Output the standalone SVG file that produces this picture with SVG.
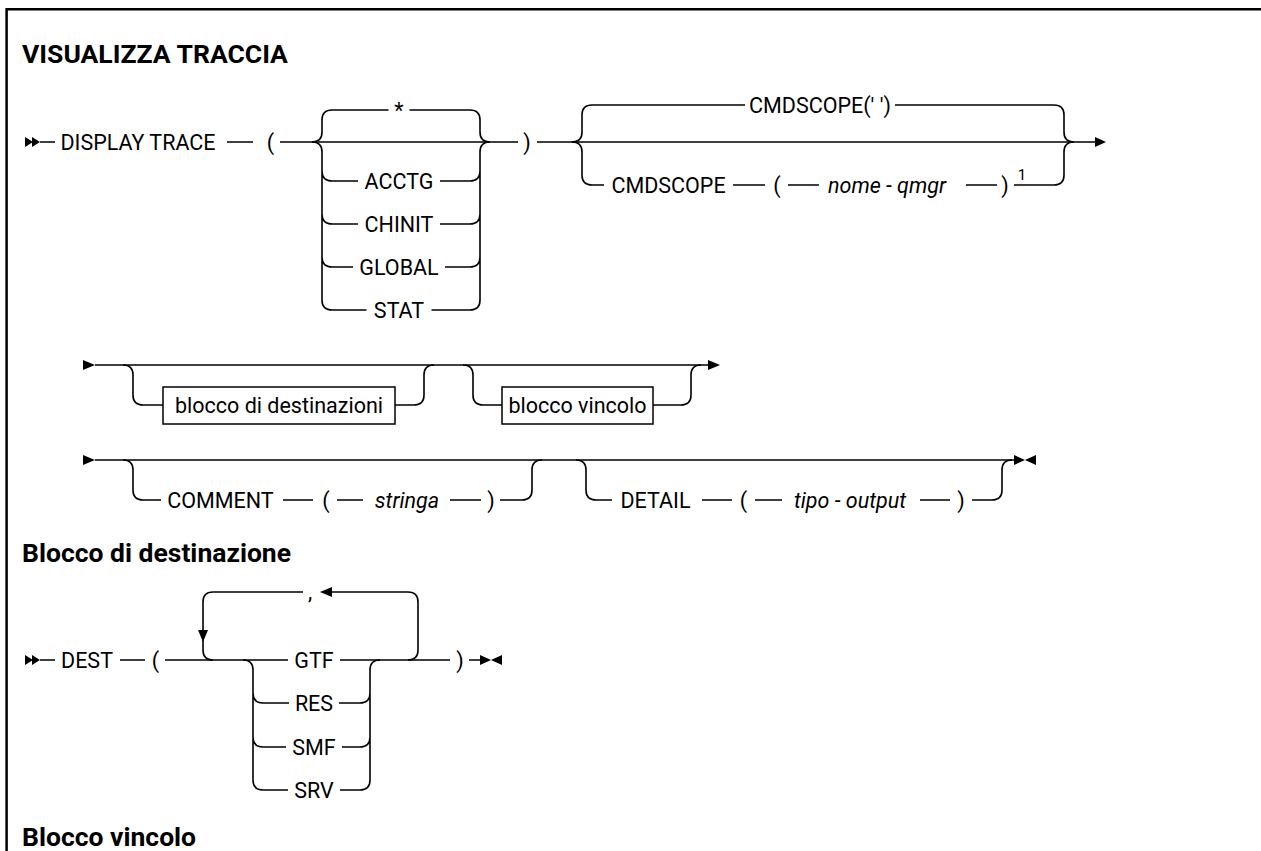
<svg xmlns="http://www.w3.org/2000/svg" width="1261" height="851" viewBox="0 0 1261 851">
<style>
.t{font-family:Roboto,"Liberation Sans",sans-serif;font-size:21.5px;fill:#000;text-anchor:middle}
.i{font-style:italic}
.h{font-family:Roboto,"Liberation Sans",sans-serif;font-size:26.5px;font-weight:bold;fill:#000}
.sup{font-family:Roboto,"Liberation Sans",sans-serif;font-size:15px;fill:#000;text-anchor:middle}
.ln{fill:none;stroke:#000;stroke-width:1.6}
.bx{fill:#fff;stroke:#000;stroke-width:1.5}
.ar{fill:#000}
.frame{fill:none;stroke:#000;stroke-width:2.5}
</style>
<rect width="1261" height="851" fill="#fff"/>
<path class="frame" d="M6.6,851 V9.2 H1261"/>

<g id="headings">
<text class="h" x="22" y="63">VISUALIZZA TRACCIA</text>
<text class="h" x="22" y="562">Blocco di destinazione</text>
<text class="h" x="22" y="846">Blocco vincolo</text>
</g>

<g id="connectors">
<!-- row 1 -->
<polygon class="ar" points="25,137 33,142 25,147"/>
<polygon class="ar" points="32,137 40,142 32,147"/>
<path class="ln" d="M40,142 H55 M227,142 H253 M280,142 H518 M537,142 H1095"/>
<polygon class="ar" points="1095,137 1106,142 1095,147"/>
<!-- choice 1 -->
<path class="ln" d="M312,142 Q322,142 322,132 V120 Q322,110 332,110 H388.5 M409.5,110 H470 Q480,110 480,120 V132 Q480,142 490,142"/>
<path class="ln" d="M312,142 Q322,142 322,152 V300 Q322,310 332,310 H366.5 M322,171 Q322,181 332,181 H358 M322,214 Q322,224 332,224 H358 M322,257 Q322,267 332,267 H353"/>
<path class="ln" d="M490,142 Q480,142 480,152 V300 Q480,310 470,310 H431.5 M480,171 Q480,181 470,181 H440 M480,214 Q480,224 470,224 H440 M480,257 Q480,267 470,267 H445"/>
<!-- choice 2 -->
<path class="ln" d="M572,142 Q582,142 582,132 V115 Q582,105 592,105 H745 M895,105 H1054 Q1064,105 1064,115 V132 Q1064,142 1074,142"/>
<path class="ln" d="M572,142 Q582,142 582,152 V175 Q582,185 592,185 H604 M733,185 H765 M788,185 H819 M966,185 H997 M1014,185 H1054 Q1064,185 1064,175 V152 Q1064,142 1074,142"/>
<!-- row 2 -->
<polygon class="ar" points="83,360 95,365 83,370"/>
<path class="ln" d="M95,365 H708"/>
<polygon class="ar" points="708,360 720,365 708,370"/>
<path class="ln" d="M123,365 Q133,365 133,375 V395 Q133,405 143,405 H163 M395,405 H414 Q424,405 424,395 V375 Q424,365 434,365"/>
<path class="ln" d="M463,365 Q473,365 473,375 V395 Q473,405 483,405 H502 M653,405 H681 Q691,405 691,395 V375 Q691,365 701,365"/>
<!-- row 3 -->
<polygon class="ar" points="83,455 95,460 83,465"/>
<path class="ln" d="M95,460 H1014"/>
<polygon class="ar" points="1014,455 1025,460 1014,465"/>
<polygon class="ar" points="1036,455 1025,460 1036,465"/>
<path class="ln" d="M123,460 Q133,460 133,470 V490 Q133,500 143,500 H161 M283,500 H313 M337,500 H363 M450,500 H481 M500,500 H522 Q532,500 532,490 V470 Q532,460 542,460"/>
<path class="ln" d="M576,460 Q586,460 586,470 V490 Q586,500 596,500 H612 M702,500 H732 M755,500 H782 M920,500 H950 M972,500 H992 Q1002,500 1002,490 V470 Q1002,460 1012,460"/>
<!-- DEST -->
<polygon class="ar" points="25,655 33,660 25,665"/>
<polygon class="ar" points="32,655 40,660 32,665"/>
<path class="ln" d="M40,660 H55 M120,660 H145 M165,660 H288 M340,660 H450 M469,660 H480"/>
<polygon class="ar" points="480,655 491,660 480,665"/>
<polygon class="ar" points="502,655 491,660 502,665"/>
<path class="ln" d="M213,660 Q203,660 203,650 V602 Q203,592 213,592 H303 M332,592 H408 Q418,592 418,602 V650 Q418,660 408,660"/>
<polygon class="ar" points="320,592 332,587 332,597"/>
<polygon class="ar" points="198,630 208,630 203,642"/>
<path class="ln" d="M243,660 Q253,660 253,670 V780 Q253,790 263,790 H288 M253,693 Q253,703 263,703 H289 M253,737 Q253,747 263,747 H286"/>
<path class="ln" d="M380,660 Q370,660 370,670 V780 Q370,790 360,790 H340 M370,693 Q370,703 360,703 H339 M370,737 Q370,747 360,747 H342"/>
</g>

<g id="n-display-trace"><text class="t" x="138" y="149.5">DISPLAY TRACE</text></g>
<g id="n-lparen1"><text class="t" x="270.5" y="149.5">(</text></g>
<g id="n-star"><text class="t" x="399" y="117.5">*</text></g>
<g id="n-acctg"><text class="t" x="399" y="188.5">ACCTG</text></g>
<g id="n-chinit"><text class="t" x="399" y="231.5">CHINIT</text></g>
<g id="n-global"><text class="t" x="399" y="274.5">GLOBAL</text></g>
<g id="n-stat"><text class="t" x="399" y="317.5">STAT</text></g>
<g id="n-rparen1"><text class="t" x="527" y="149.5">)</text></g>
<g id="n-cmdscope-default"><text class="t" x="820" y="112.5">CMDSCOPE(' ')</text></g>
<g id="n-cmdscope"><text class="t" x="668.5" y="192.5">CMDSCOPE</text></g>
<g id="n-lparen2"><text class="t" x="777" y="192.5">(</text></g>
<g id="n-nome-qmgr"><text class="t i" x="887" y="192.5">nome - qmgr</text></g>
<g id="n-rparen2"><text class="t" x="1005" y="192.5">)</text></g>
<g id="n-note1"><text class="sup" x="1022" y="180">1</text></g>

<g id="n-blocco-dest"><rect class="bx" x="163" y="387" width="232" height="37"/><text class="t" x="279" y="412.5">blocco di destinazioni</text></g>
<g id="n-blocco-vincolo"><rect class="bx" x="502" y="387" width="151" height="37"/><text class="t" x="577.5" y="412.5">blocco vincolo</text></g>

<g id="n-comment"><text class="t" x="220.5" y="507.5">COMMENT</text></g>
<g id="n-lparen3"><text class="t" x="326" y="507.5">(</text></g>
<g id="n-stringa"><text class="t i" x="407" y="507.5">stringa</text></g>
<g id="n-rparen3"><text class="t" x="491" y="507.5">)</text></g>
<g id="n-detail"><text class="t" x="655.5" y="507.5">DETAIL</text></g>
<g id="n-lparen4"><text class="t" x="743.5" y="507.5">(</text></g>
<g id="n-tipo-output"><text class="t i" x="850" y="507.5">tipo - output</text></g>
<g id="n-rparen4"><text class="t" x="961" y="507.5">)</text></g>

<g id="n-dest"><text class="t" x="87" y="667.5">DEST</text></g>
<g id="n-lparen5"><text class="t" x="155.5" y="667.5">(</text></g>
<g id="n-comma"><text class="t" x="310" y="599">,</text></g>
<g id="n-gtf"><text class="t" x="314" y="667.5">GTF</text></g>
<g id="n-res"><text class="t" x="314" y="710.5">RES</text></g>
<g id="n-smf"><text class="t" x="314" y="754.5">SMF</text></g>
<g id="n-srv"><text class="t" x="314" y="797.5">SRV</text></g>
<g id="n-rparen5"><text class="t" x="460" y="667.5">)</text></g>
</svg>
